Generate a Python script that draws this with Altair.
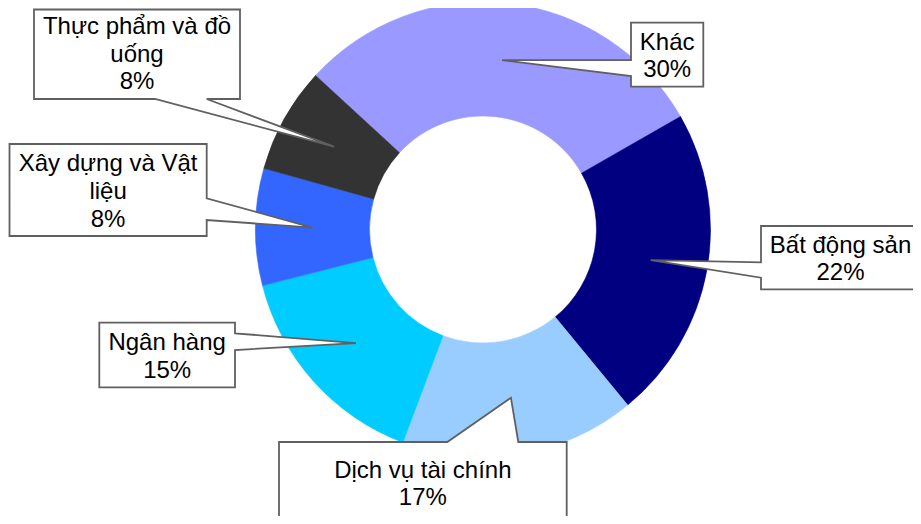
import math
import altair as alt
import pandas as pd

# ---- data ----
names = ["Khác", "Bất động sản", "Dịch vụ tài chính", "Ngân hàng",
         "Xây dựng và Vật liệu", "Thực phẩm và đồ uống"]
shares = [29.9, 22.3, 16.7, 15.3, 8.3, 7.5]
colors = ["#9999FF", "#000080", "#99CCFF", "#00CCFF", "#3366FF", "#333333"]
label_lines = [["Khác"], ["Bất động sản"], ["Dịch vụ tài chính"], ["Ngân hàng"],
               ["Xây dựng và Vật", "liệu"], ["Thực phẩm và đồ", "uống"]]

# ---- layout (page pixels, converted to chart pixels by OFF) ----
OFF = 8
CX, CY = 483 - OFF, 229.5 - OFF
R_OUT, R_IN = 227.5, 113.5
R_MID = (R_OUT + R_IN) / 2
START_DEG = -47.4 + 360  # clockwise from 12 o'clock
LINE_H = 27.6

# callout box: (left, top, right, bottom), side where the pointer leaves, pointer base
callouts = [
    dict(box=(631, 22.7, 703.3, 86.7), side="left", base=(60, 76)),
    dict(box=(761, 226, 920, 289.3), side="left", base=(262.3, 277.7)),
    dict(box=(279, 442, 566.7, 523.3), side="top", base=(447.3, 518.3)),
    dict(box=(99.3, 322.7, 235, 387.3), side="right", base=(333.3, 350)),
    dict(box=(9.5, 144, 206.7, 236), side="right", base=(198.3, 220)),
    dict(box=(34, 9.5, 240, 99), side="bottom", base=(155, 206.7)),
]
text_dy = [2, 2, 2, 2, 2, 0.6]

total = sum(shares)
slices = pd.DataFrame({"name": names, "share": shares, "idx": list(range(len(names)))})

# pointer tips: middle of each ring segment, derived from the data
tips = []
cum = 0.0
for v in shares:
    a0 = START_DEG + cum / total * 360
    cum += v
    a1 = START_DEG + cum / total * 360
    mid = math.radians((a0 + a1) / 2)
    tips.append((CX + R_MID * math.sin(mid), CY - R_MID * math.cos(mid)))

features = []
texts = []
for name, v, lines, c, tip, dy in zip(names, shares, label_lines, callouts, tips, text_dy):
    l, t, r, b = [p - OFF for p in c["box"]]
    b1, b2 = [p - OFF for p in c["base"]]
    tl, tr, br, bl = [l, t], [r, t], [r, b], [l, b]
    tp = [tip[0], tip[1]]
    if c["side"] == "top":
        ring = [tl, [b1, t], tp, [b2, t], tr, br, bl, tl]
    elif c["side"] == "right":
        ring = [tl, tr, [r, b1], tp, [r, b2], br, bl, tl]
    elif c["side"] == "bottom":
        ring = [tl, tr, br, [b2, b], tp, [b1, b], bl, tl]
    else:
        ring = [tl, tr, br, bl, [l, b2], tp, [l, b1], tl]
    features.append({"type": "Feature", "properties": {"name": name},
                     "geometry": {"type": "Polygon", "coordinates": [ring]}})
    all_lines = lines + [f"{int(v + 0.5)}%"]
    n = len(all_lines)
    texts.append({"x": (l + r) / 2,
                  "y": (t + b) / 2 + dy - (n - 1) / 2 * LINE_H,
                  "label": "\n".join(all_lines)})

color_scale = alt.Scale(domain=names, range=colors)

arcs = alt.Chart(slices).mark_arc(outerRadius=R_OUT, innerRadius=R_IN, strokeWidth=0.6).encode(
    theta=alt.Theta("share:Q", stack=True,
                    scale=alt.Scale(range=[math.radians(START_DEG), math.radians(START_DEG) + 2 * math.pi])),
    color=alt.Color("name:N", scale=color_scale, legend=None),
    stroke=alt.Stroke("name:N", scale=color_scale, legend=None),
    order=alt.Order("idx:Q"),
    x=alt.value(CX),
    y=alt.value(CY),
)

boxes = alt.Chart(alt.Data(values=features)).mark_geoshape(
    fill="white", stroke="#606060", strokeWidth=1.8
).project(type="identity", scale=1, translate=[0, 0])

labels = alt.Chart(pd.DataFrame(texts)).mark_text(
    font="Liberation Sans", fontSize=24, color="black", lineBreak="\n",
    lineHeight=LINE_H, baseline="middle", align="center"
).encode(
    x=alt.X("x:Q", scale=None, axis=None),
    y=alt.Y("y:Q", scale=None, axis=None),
    text="label:N",
)

chart = alt.layer(arcs, boxes, labels).properties(
    width=905, height=508, padding=0, autosize=alt.AutoSizeParams(type="none"),
    background="white",
).configure_view(stroke=None)

chart.save("out.html", embed_options={"renderer": "svg", "actions": False})
